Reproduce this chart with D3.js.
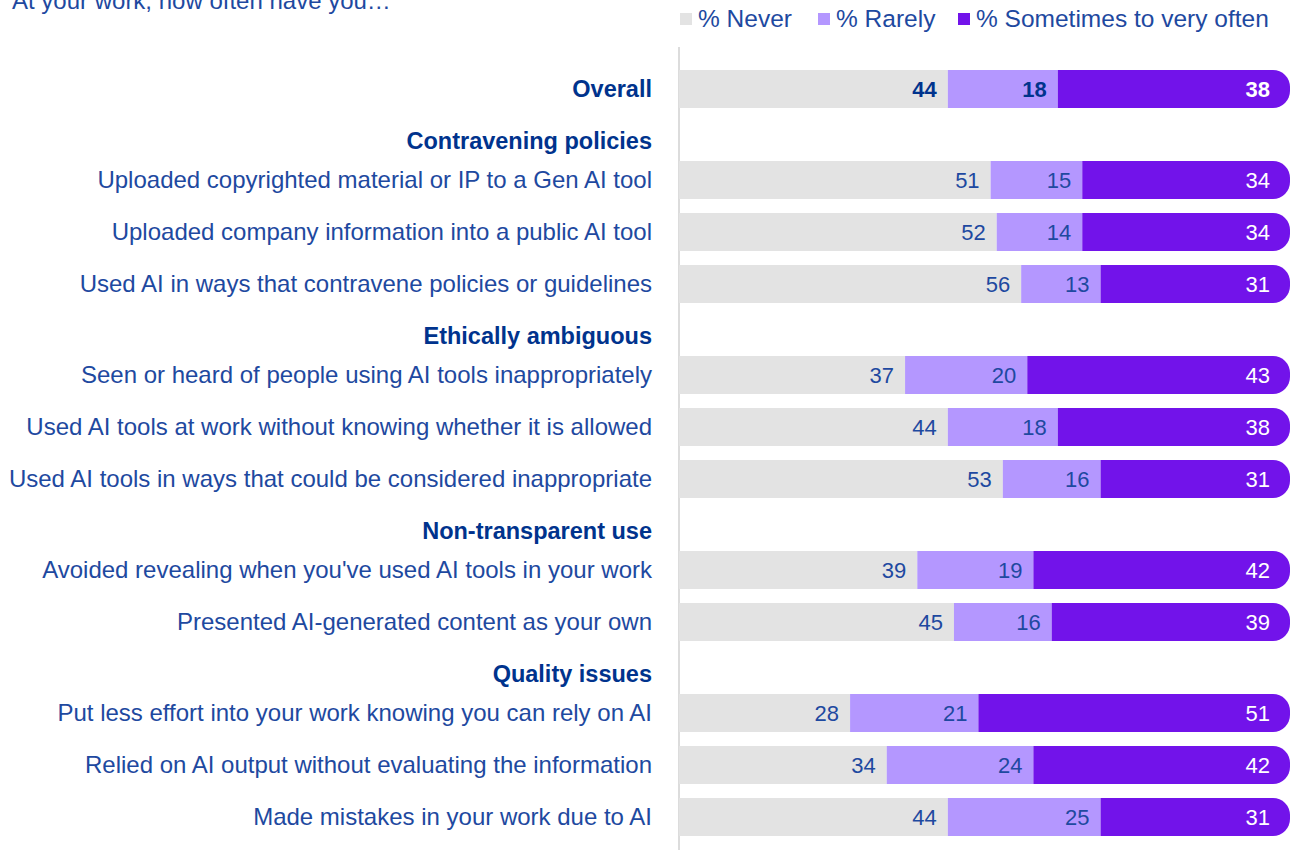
<!DOCTYPE html>
<html>
<head>
<meta charset="utf-8">
<script src="https://cdn.jsdelivr.net/npm/d3@7"></script>
<style>
  body { margin: 0; background: #fff; }
  text { font-family: "Liberation Sans", Arial, sans-serif; }
</style>
</head>
<body>
<div id="chart"></div>
<script>
// data
var title = "At your work, how often have you\u2026";
var seriesNames = ["% Never", "% Rarely", "% Sometimes to very often"];
var groupNames = ["Contravening policies", "Ethically ambiguous", "Non-transparent use", "Quality issues"];
var labels = [
  "Overall",
  "Uploaded copyrighted material or IP to a Gen AI tool",
  "Uploaded company information into a public AI tool",
  "Used AI in ways that contravene policies or guidelines",
  "Seen or heard of people using AI tools inappropriately",
  "Used AI tools at work without knowing whether it is allowed",
  "Used AI tools in ways that could be considered inappropriate",
  "Avoided revealing when you've used AI tools in your work",
  "Presented AI-generated content as your own",
  "Put less effort into your work knowing you can rely on AI",
  "Relied on AI output without evaluating the information",
  "Made mistakes in your work due to AI"
];
var rowGroup = [-1, 0, 0, 0, 1, 1, 1, 2, 2, 3, 3, 3];
var never     = [44, 51, 52, 56, 37, 44, 53, 39, 45, 28, 34, 44];
var rarely    = [18, 15, 14, 13, 20, 18, 16, 19, 16, 21, 24, 25];
var often     = [38, 34, 34, 31, 43, 38, 31, 42, 39, 51, 42, 31];

var colors = ["#e3e3e3", "#b497ff", "#7213ea"];
var textBlue = "#1e49a0", darkBlue = "#00338d";

var width = 1293, height = 850;
var barH = 38, radius = 17;

var svg = d3.select("#chart").append("svg")
    .attr("width", width).attr("height", height);

var x = d3.scaleLinear().domain([0, 100]).range([679, 1290]);
// vertical layout in units: a row takes 4 units, a group header adds 3 units
var y = d3.scaleLinear().domain([0, 1]).range([89, 102]);

var rows = labels.map(function(l, i) {
  var g = rowGroup[i] + 1;
  return { label: l, i: i, group: rowGroup[i], u: 4 * i + 3 * g,
           never: never[i], rarely: rarely[i], often: often[i] };
});

var keys = ["never", "rarely", "often"];
var stacked = d3.stack().keys(keys)(rows);

// title (partly cut at the top)
svg.append("text").attr("x", 12).attr("y", 9)
  .attr("fill", textBlue).style("font-size", "24px").text(title);

// legend
var legX = [680, 818, 958];
var leg = svg.selectAll(".leg").data(seriesNames).enter().append("g")
  .attr("transform", function(d, i) { return "translate(" + legX[i] + ",0)"; });
leg.append("rect").attr("x", 0).attr("y", 13).attr("width", 12).attr("height", 12)
  .attr("fill", function(d, i) { return colors[i]; });
leg.append("text").attr("x", 18).attr("y", 27).attr("fill", textBlue)
  .style("font-size", "24.5px").text(function(d) { return d; });

// axis line
svg.append("line").attr("x1", x(0)).attr("x2", x(0)).attr("y1", 47).attr("y2", height)
  .attr("stroke", "#dcdcdc").attr("stroke-width", 2);

// bars
function segPath(d, k) {
  var x0 = x(d[0]), x1 = x(d[1]);
  var y0 = y(d.data.u) - barH / 2, y1 = y0 + barH;
  if (k < 2) return "M" + x0 + "," + y0 + "H" + x1 + "V" + y1 + "H" + x0 + "Z";
  var r = radius;
  return "M" + x0 + "," + y0 + "H" + (x1 - r) +
    "A" + r + "," + r + " 0 0 1 " + x1 + "," + (y0 + r) +
    "V" + (y1 - r) +
    "A" + r + "," + r + " 0 0 1 " + (x1 - r) + "," + y1 +
    "H" + x0 + "Z";
}

stacked.forEach(function(layer, k) {
  var g = svg.append("g");
  g.selectAll("path").data(layer).enter().append("path")
    .attr("d", function(d) { return segPath(d, k); })
    .attr("fill", colors[k]);
  g.selectAll("text").data(layer).enter().append("text")
    .attr("x", function(d) { return x(d[1]) - (k == 2 ? 20 : 11); })
    .attr("y", function(d) { return y(d.data.u) + 8; })
    .attr("text-anchor", "end")
    .attr("fill", function(d) {
      if (k == 2) return "#fff";
      return d.data.i == 0 ? darkBlue : textBlue;
    })
    .style("font-size", "22px")
    .style("font-weight", function(d) { return d.data.i == 0 ? "bold" : "normal"; })
    .text(function(d) { return d.data[keys[k]]; });
});

// row labels
svg.selectAll(".lbl").data(rows).enter().append("text")
  .attr("x", 652).attr("y", function(d) { return y(d.u) + 8; })
  .attr("text-anchor", "end")
  .attr("fill", function(d) { return d.i == 0 ? darkBlue : textBlue; })
  .style("font-size", function(d) { return d.i == 0 ? "23.5px" : "24px"; })
  .style("font-weight", function(d) { return d.i == 0 ? "bold" : "normal"; })
  .text(function(d) { return d.label; });

// group headers sit above the first row of each group
var headers = groupNames.map(function(n, gi) {
  var first = rows.filter(function(r) { return r.group == gi; })[0];
  return { name: n, u: first.u - 3 };
});
svg.selectAll(".hdr").data(headers).enter().append("text")
  .attr("x", 652).attr("y", function(d) { return y(d.u) + 8; })
  .attr("text-anchor", "end").attr("fill", darkBlue)
  .style("font-size", "23.5px").style("font-weight", "bold")
  .text(function(d) { return d.name; });
</script>
</body>
</html>
